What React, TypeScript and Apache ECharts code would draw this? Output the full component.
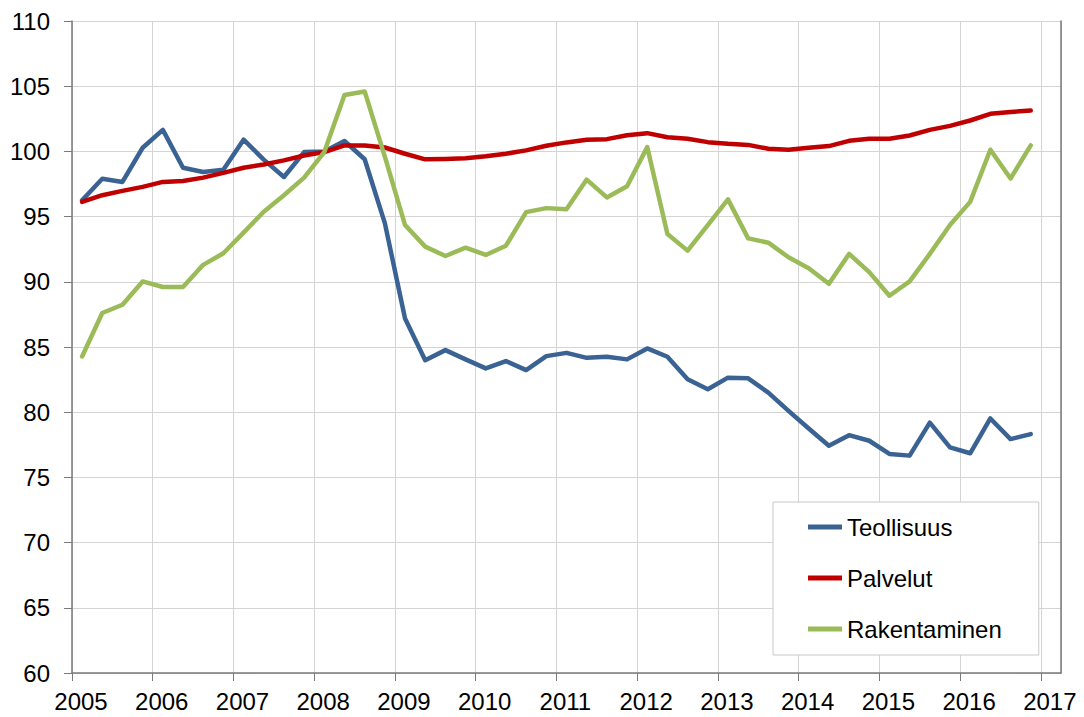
import React, { useEffect, useRef } from "react";
import * as echarts from "echarts";

// Quarters 2005Q1 .. 2016Q4 (plotted at the middle of each quarter)
const quarters: string[] = [];
for (let y = 2005; y <= 2016; y++) for (let q = 1; q <= 4; q++) quarters.push(`${y}Q${q}`);

const teollisuus = [
  96.26, 97.9, 97.66, 100.28, 101.65, 98.75, 98.42, 98.6,
  100.9, 99.37, 98.04, 99.95, 100.0, 100.8, 99.4, 94.5,
  87.18, 83.99, 84.76, 84.05, 83.36, 83.92, 83.23, 84.3,
  84.55, 84.17, 84.25, 84.05, 84.89, 84.25, 82.52, 81.76,
  82.65, 82.6, 81.5, 80.1, 78.75, 77.43, 78.24, 77.81,
  76.8, 76.67, 79.2, 77.3, 76.85, 79.52, 77.94, 78.32,
];

const palvelut = [
  96.13, 96.64, 96.97, 97.28, 97.66, 97.73, 97.99, 98.35,
  98.75, 99.0, 99.31, 99.69, 99.95, 100.46, 100.46, 100.3,
  99.82, 99.39, 99.42, 99.47, 99.62, 99.82, 100.08, 100.43,
  100.69, 100.89, 100.94, 101.24, 101.4, 101.09, 100.97, 100.71,
  100.58, 100.5, 100.2, 100.13, 100.28, 100.41, 100.81, 100.97,
  100.97, 101.22, 101.65, 101.96, 102.37, 102.88, 103.03, 103.13,
];

const rakentaminen = [
  84.27, 87.61, 88.24, 90.03, 89.6, 89.6, 91.3, 92.19,
  93.77, 95.37, 96.64, 97.99, 99.95, 104.33, 104.6, 99.6,
  94.35, 92.7, 91.98, 92.62, 92.06, 92.77, 95.34, 95.65,
  95.57, 97.84, 96.47, 97.33, 100.33, 93.66, 92.39, 94.35,
  96.32, 93.33, 93.0, 91.88, 91.04, 89.85, 92.14, 90.74,
  88.93, 90.03, 92.14, 94.35, 96.13, 100.13, 97.92, 100.46,
];

const seriesNames = ["Teollisuus", "Palvelut", "Rakentaminen"];
const seriesColors = ["#3a6394", "#c00000", "#9bbb59"];

const quarterToX = (q: string) => {
  const [y, qq] = q.split("Q");
  return Number(y) + (Number(qq) - 1) * 0.25 + 0.125;
};

const FONT = "Liberation Sans, Arial, sans-serif";

export default function App() {
  const ref = useRef<HTMLDivElement>(null);
  useEffect(() => {
    if (!ref.current) return;
    const chart = echarts.init(ref.current, undefined, { renderer: "svg" });
    const allData = [teollisuus, palvelut, rakentaminen];
    chart.setOption({
      animation: false,
      backgroundColor: "#ffffff",
      textStyle: { fontFamily: FONT },
      grid: { left: 72, right: 23, top: 21, bottom: 44, containLabel: false },
      legend: {
        orient: "vertical",
        left: 773,
        top: 502,
        padding: [13, 37, 14, 35],
        itemGap: 27,
        itemWidth: 34,
        itemHeight: 5,
        icon: "rect",
        backgroundColor: "#ffffff",
        borderColor: "#c8c8c8",
        borderWidth: 1,
        borderRadius: 0,
        textStyle: { fontSize: 24, color: "#000", fontFamily: FONT },
        data: seriesNames,
      },
      xAxis: {
        type: "value",
        min: 2005,
        max: 2017.25,
        interval: 1,
        axisLine: { show: true, onZero: false, lineStyle: { color: "#7a7a7a", width: 1.5 } },
        axisTick: { show: true, length: 8, lineStyle: { color: "#7a7a7a" } },
        axisLabel: {
          fontSize: 24,
          color: "#000",
          fontFamily: FONT,
          margin: 16,
          padding: [0, 0, 0, 18],
          showMaxLabel: false,
          formatter: (v: number) => (Number.isInteger(v) ? String(v) : ""),
        },
        splitLine: { show: true, lineStyle: { color: "#d4d4d4", width: 1 } },
      },
      yAxis: [
        {
          type: "value",
          min: 60,
          max: 110,
          interval: 5,
          axisLine: { show: true, lineStyle: { color: "#7a7a7a", width: 1.5 } },
          axisTick: { show: true, length: 8, lineStyle: { color: "#7a7a7a" } },
          axisLabel: { fontSize: 24, color: "#000", fontFamily: FONT, margin: 22 },
          splitLine: { show: true, lineStyle: { color: "#d4d4d4", width: 1 } },
        },
        {
          type: "value",
          min: 60,
          max: 110,
          interval: 5,
          position: "right",
          axisLine: { show: true, lineStyle: { color: "#7a7a7a", width: 1.5 } },
          axisTick: { show: false },
          axisLabel: { show: false },
          splitLine: { show: false },
        },
      ],
      series: seriesNames.map((name, i) => ({
        name,
        type: "line",
        yAxisIndex: 0,
        showSymbol: false,
        symbol: "none",
        lineStyle: { width: 4.5, color: seriesColors[i], cap: "round", join: "round" },
        itemStyle: { color: seriesColors[i] },
        data: quarters.map((q, k) => [quarterToX(q), allData[i][k]]),
      })),
    });
    return () => chart.dispose();
  }, []);
  return <div ref={ref} style={{ width: 1084, height: 717, position: "absolute", left: 0, top: 0 }} />;
}
